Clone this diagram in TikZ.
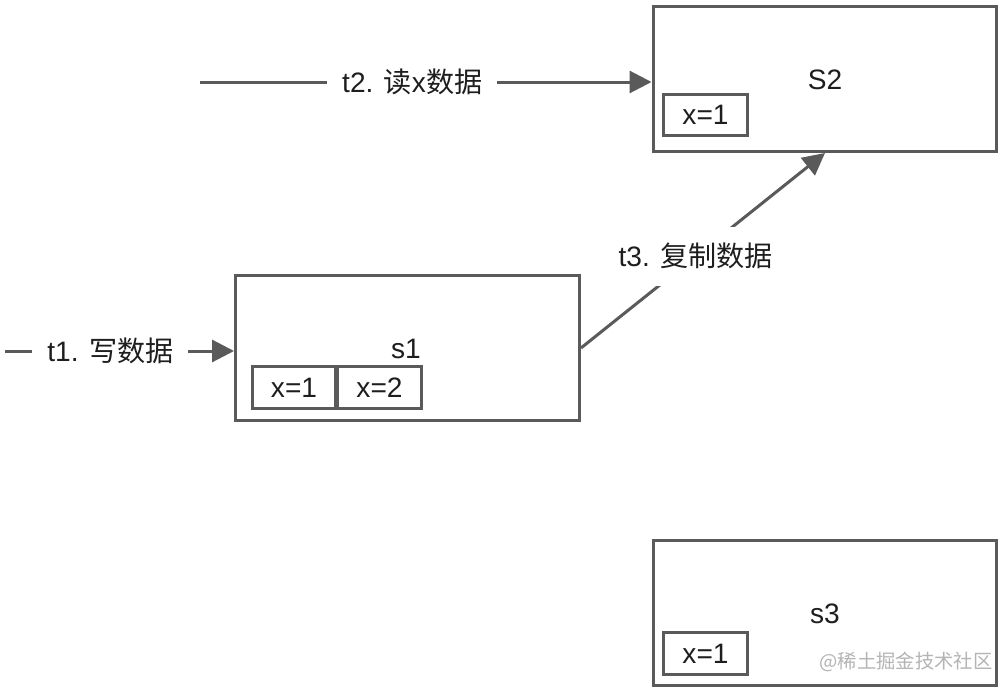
\documentclass[tikz,border=0pt]{standalone}
\usepackage{fontspec}
\usepackage{tikz}
\usetikzlibrary{arrows.meta}
\setmainfont{Liberation Sans}
\newfontfamily\cjk{Noto Sans CJK SC}
\definecolor{linegray}{HTML}{5A5A5A}
\definecolor{textdark}{HTML}{1E1E1E}
\definecolor{markgray}{HTML}{B4B4B4}

\begin{document}
\begin{tikzpicture}[x=0.02cm,y=-0.02cm,
  server/.style={rectangle,draw=linegray,line width=0.06cm,
    minimum width=6.88cm,minimum height=2.9cm},
  cell/.style={rectangle,draw=linegray,line width=0.06cm,
    minimum width=1.68cm,minimum height=0.84cm,
    font=\fontsize{16}{19}\selectfont,text=textdark},
  srvname/.style={font=\fontsize{16}{19}\selectfont,text=textdark},
  steplabel/.style={fill=white,inner xsep=0.3cm,inner ysep=0.12cm,
    font=\fontsize{16}{19}\selectfont,text=textdark},
  arr/.style={draw=linegray,line width=0.06cm,
    -{Triangle[length=0.44cm,width=0.44cm]}}]

  \useasboundingbox[fill=white] (0,0) rectangle (1005,693);

  % servers
  \node[server] (S2) at (825,79) {};
  \node[server] (s1) at (407.5,348) {};
  \node[server] (s3) at (825,613) {};

  \node[srvname] (S2name) at (825,80) {S2};
  \node[srvname] (s1name) at (406,349) {s1};
  \node[srvname] (s3name) at (825,614) {s3};

  % data cells
  \node[cell] (S2x1) at (705.5,115) {x=1};
  \node[cell] (s1x1) at (294,387.5) {x=1};
  \node[cell,minimum width=1.7cm] (s1x2) at (379.5,387.5) {x=2};
  \node[cell] (s3x1) at (705.5,653.5) {x=1};

  % steps
  \coordinate (t1start) at (5,351);
  \coordinate (t2start) at (200,82);
  \draw[arr] (t1start) -- node[steplabel,pos=0.46] (t1) {t1. {\cjk 写数据}} (t1start -| s1.west);
  \draw[arr] (t2start) -- node[steplabel,pos=0.47] (t2) {t2. {\cjk 读}x{\cjk 数据}} (t2start -| S2.west);
  \draw[arr] (s1.east) -- node[steplabel,inner ysep=0.33cm,pos=0.47] (t3) {t3. {\cjk 复制数据}} (S2.south);

  \node[font=\fontsize{11}{13}\selectfont\cjk,text=markgray] (mark) at (906,662) {@稀土掘金技术社区};
\end{tikzpicture}
\end{document}
